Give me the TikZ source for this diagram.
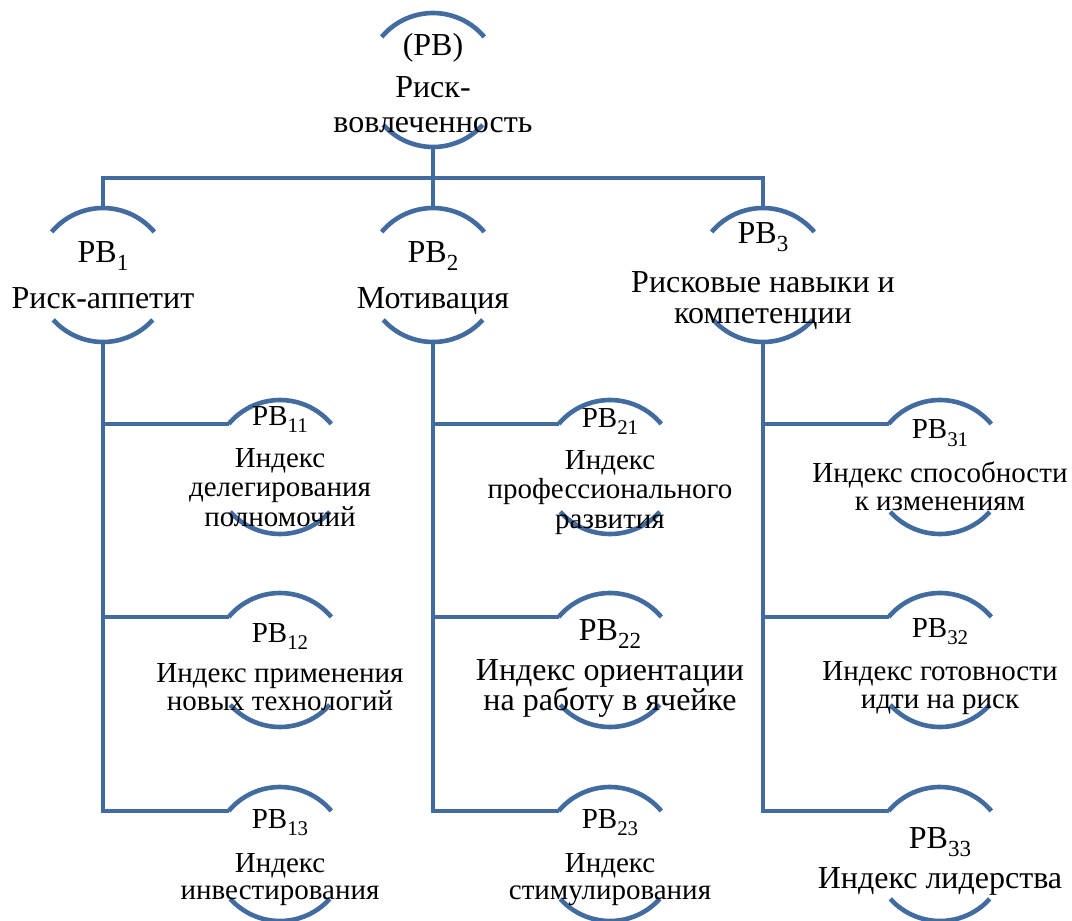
\documentclass[tikz,border=0pt]{standalone}
\usepackage{fontspec}
\setmainfont{Liberation Serif}
\definecolor{linkblue}{RGB}{66,107,160}
\newcommand\fsz[2]{\fontsize{#1}{#2}\selectfont}
% lowered, reduced index after the letters "РВ"
\newcommand\sbx[1]{\raisebox{-0.25em}{\scalebox{0.72}{#1}}}
\begin{document}
\begin{tikzpicture}[x=1pt,y=1pt,
  ring/.style={circle,minimum size=134pt,inner sep=0pt,outer sep=0pt},
  link/.style={draw=linkblue,line width=4.6pt},
  txt/.style={align=center,inner sep=0pt,anchor=base,text=black}]
\useasboundingbox (0,0) rectangle (1072,-921);

% circles that carry the caps (drawn as two arcs each)
\node[ring] (c0) at (433,-80) {};
\node[ring] (c1) at (103,-275) {};
\node[ring] (c2) at (433,-275) {};
\node[ring] (c3) at (763,-275) {};
\node[ring] (c11) at (280,-467) {};
\node[ring] (c12) at (280,-660) {};
\node[ring] (c13) at (280,-854) {};
\node[ring] (c21) at (610,-467) {};
\node[ring] (c22) at (610,-660) {};
\node[ring] (c23) at (610,-854) {};
\node[ring] (c31) at (940,-467) {};
\node[ring] (c32) at (940,-660) {};
\node[ring] (c33) at (940,-854) {};

% upper and lower caps
\foreach \c in {c0,c1,c2,c3,c11,c12,c13,c21,c22,c23,c31,c32,c33}{
  \draw[link] (\c.140) arc[start angle=140,end angle=40,radius=67pt];
  \draw[link] (\c.-138) arc[start angle=-138,end angle=-42,radius=67pt];
}

% root to first level
\coordinate (bus) at (433,-178);
\draw[link] (c0.south) -- (bus);
\draw[link] (c1.north) -- (c1.north |- bus) -- (c3.north |- bus) -- (c3.north);
\draw[link] (bus) -- (c2.north);

% first level to second level
\foreach \p in {1,2,3}{
  \draw[link] (c\p.south) -- (c\p.south |- c\p3.140) -- (c\p3.140);
  \draw[link] (c\p.south |- c\p1.140) -- (c\p1.140);
  \draw[link] (c\p.south |- c\p2.140) -- (c\p2.140);
}

% texts (each placed at the baseline of its last line)
\node[txt,font=\fsz{32}{35}] (t0) at (433,-132) {(РВ)\\[7pt]Риск-\\вовлеченность};
\node[txt,font=\fsz{32}{33}] (t1) at (103,-308) {РВ\sbx{1}\\[13pt]Риск-аппетит};
\node[txt,font=\fsz{32}{33}] (t2) at (433,-308) {РВ\sbx{2}\\[13pt]Мотивация};
\node[txt,font=\fsz{32}{31}] (t3) at (763,-323) {РВ\sbx{3}\\[18pt]Рисковые навыки и\\компетенции};
\node[txt,font=\fsz{29}{29.5}] (t11) at (280,-526) {РВ\sbx{11}\\[12pt]Индекс\\делегирования\\полномочий};
\node[txt,font=\fsz{29}{28}] (t12) at (280,-710) {РВ\sbx{12}\\[12pt]Индекс применения\\новых технологий};
\node[txt,font=\fsz{29}{27}] (t13) at (280,-899) {РВ\sbx{13}\\[17pt]Индекс\\инвестирования};
\node[txt,font=\fsz{29}{29.5}] (t21) at (610,-528) {РВ\sbx{21}\\[12.5pt]Индекс\\профессионального\\развития};
\node[txt,font=\fsz{32}{30}] (t22) at (610,-710) {РВ\sbx{22}\\[10pt]Индекс ориентации\\на работу в ячейке};
\node[txt,font=\fsz{29}{27}] (t23) at (610,-899) {РВ\sbx{23}\\[17pt]Индекс\\стимулирования};
\node[txt,font=\fsz{29}{28}] (t31) at (940,-510) {РВ\sbx{31}\\[14pt]Индекс способности\\к изменениям};
\node[txt,font=\fsz{29}{28}] (t32) at (940,-708) {РВ\sbx{32}\\[15pt]Индекс готовности\\идти на риск};
\node[txt,font=\fsz{32}{33}] (t33) at (940,-888) {РВ\sbx{33}\\[7pt]Индекс лидерства};
\end{tikzpicture}
\end{document}
